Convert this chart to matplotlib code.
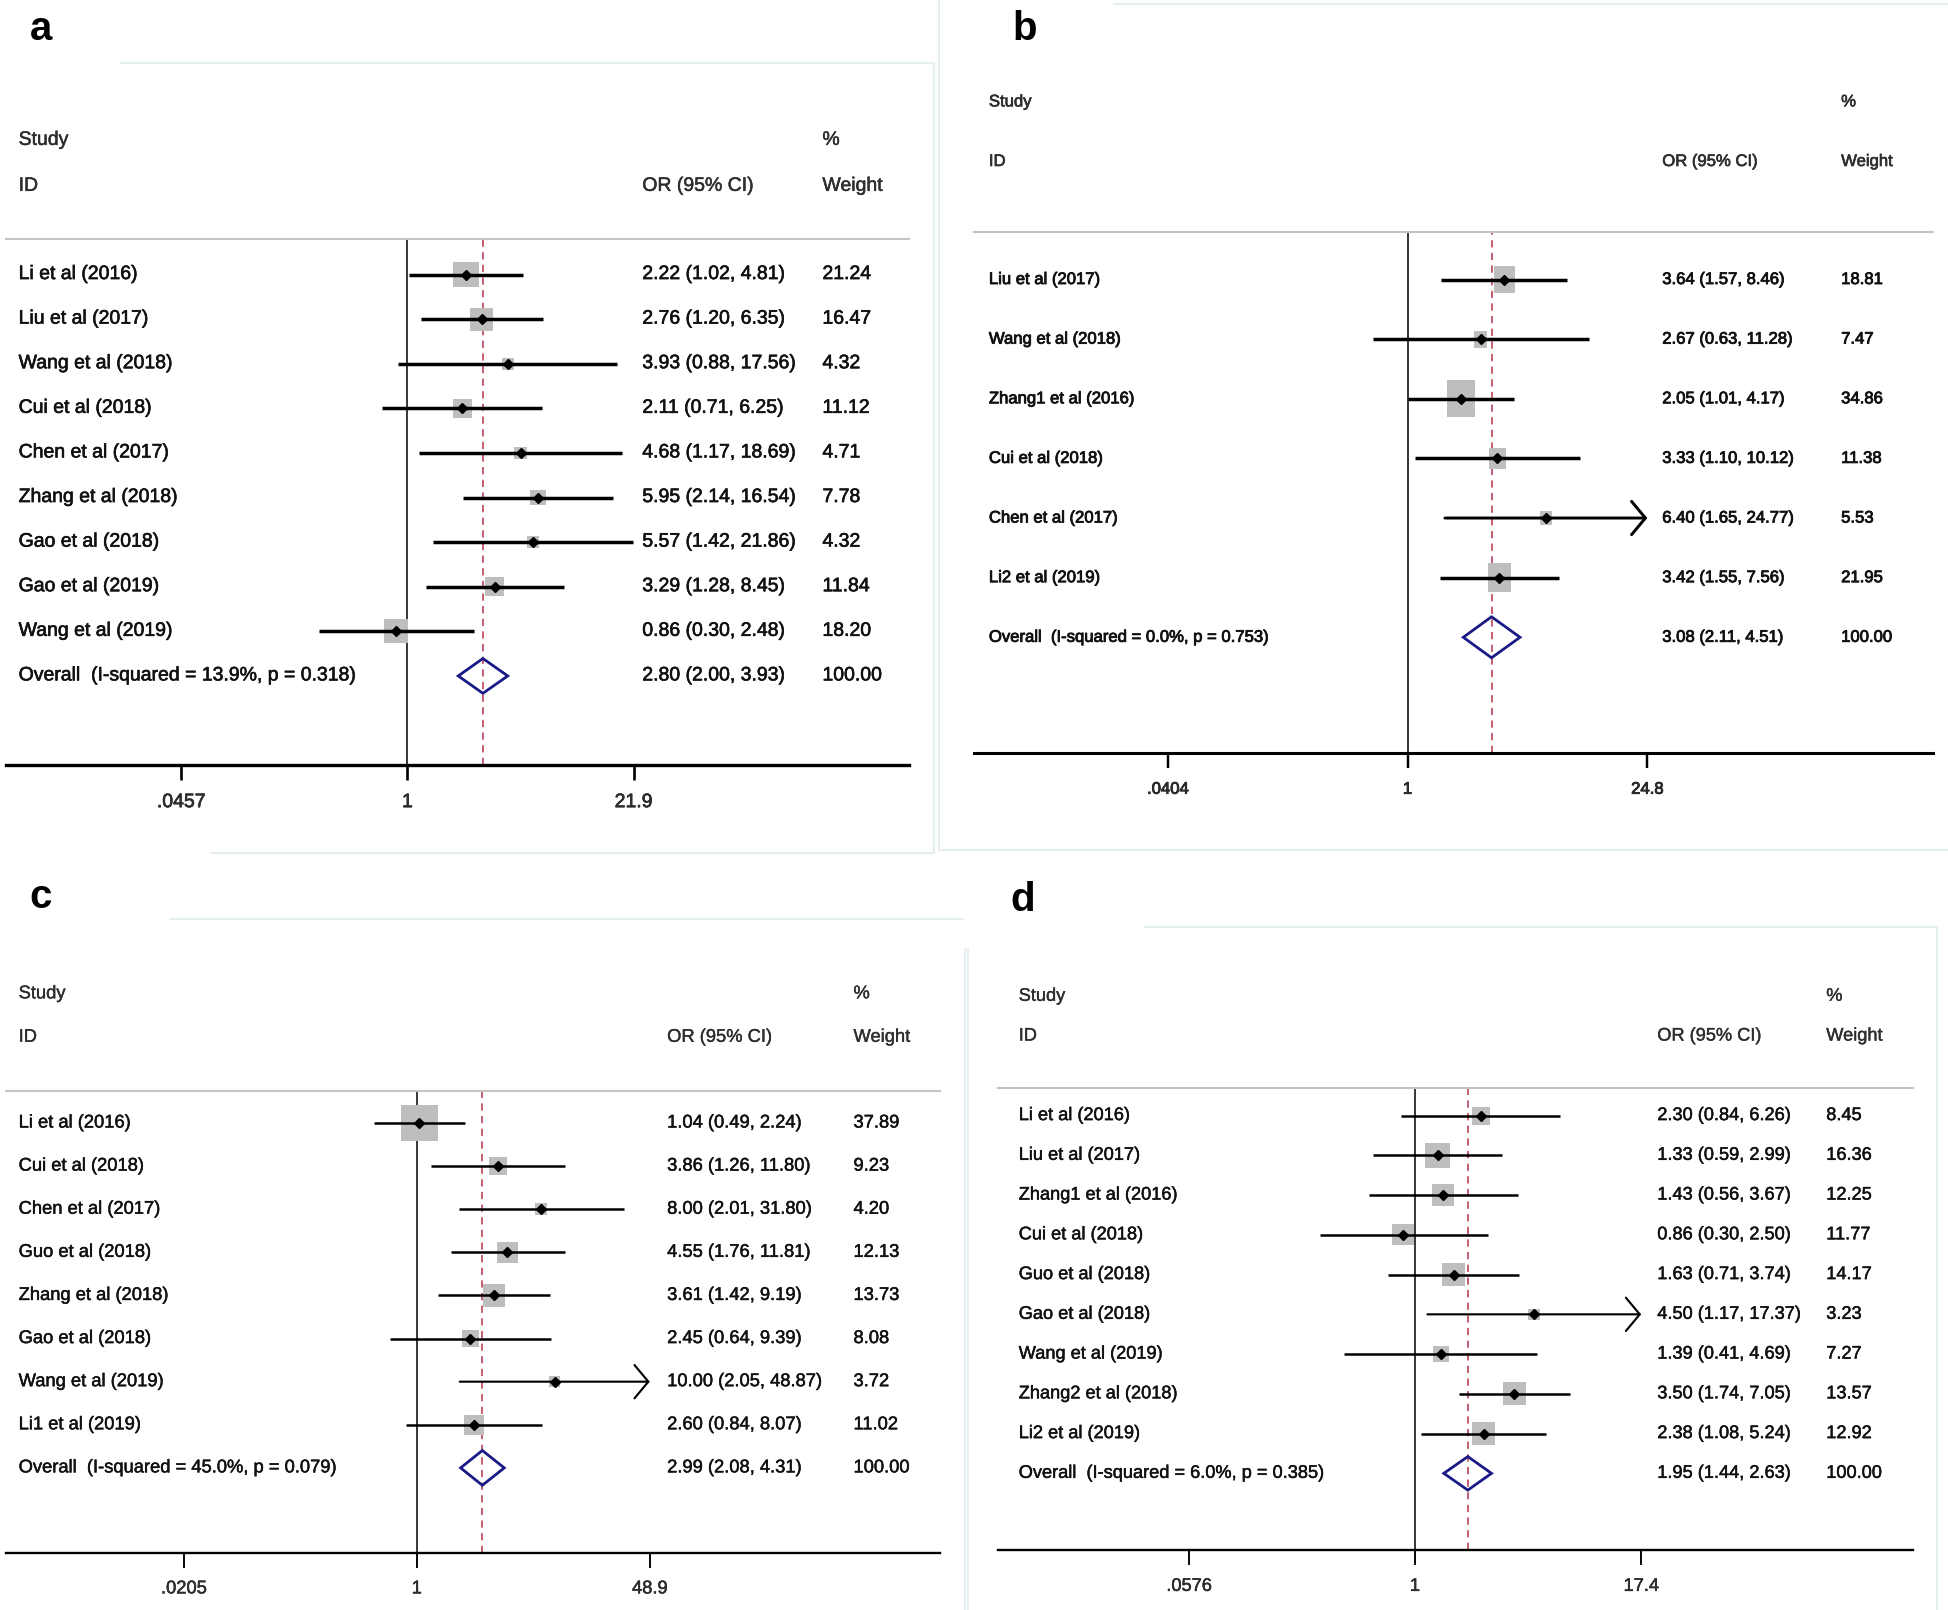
import numpy as np
import matplotlib
matplotlib.use("Agg")
import matplotlib.pyplot as plt
import matplotlib.transforms as mtransforms
import matplotlib.patheffects as pe
from matplotlib.lines import Line2D

plt.rcParams['font.family'] = ['Liberation Sans', 'DejaVu Sans']

# ------------------------------------------------------------------ data
a_study = ["Li et al (2016)", "Liu et al (2017)", "Wang et al (2018)", "Cui et al (2018)",
           "Chen et al (2017)", "Zhang et al (2018)", "Gao et al (2018)", "Gao et al (2019)",
           "Wang et al (2019)"]
a_or = [2.22, 2.76, 3.93, 2.11, 4.68, 5.95, 5.57, 3.29, 0.86]
a_lo = [1.02, 1.20, 0.88, 0.71, 1.17, 2.14, 1.42, 1.28, 0.30]
a_hi = [4.81, 6.35, 17.56, 6.25, 18.69, 16.54, 21.86, 8.45, 2.48]
a_wt = [21.24, 16.47, 4.32, 11.12, 4.71, 7.78, 4.32, 11.84, 18.20]
a_arrow = [False, False, False, False, False, False, False, False, False]
a_overall = [2.80, 2.00, 3.93]
a_het = "Overall  (I-squared = 13.9%, p = 0.318)"
a_ticks = [0.0457, 1, 21.9]
a_ticklabels = [".0457", "1", "21.9"]

b_study = ["Liu et al (2017)", "Wang et al (2018)", "Zhang1 et al (2016)", "Cui et al (2018)",
           "Chen et al (2017)", "Li2 et al (2019)"]
b_or = [3.64, 2.67, 2.05, 3.33, 6.40, 3.42]
b_lo = [1.57, 0.63, 1.01, 1.10, 1.65, 1.55]
b_hi = [8.46, 11.28, 4.17, 10.12, 24.77, 7.56]
b_wt = [18.81, 7.47, 34.86, 11.38, 5.53, 21.95]
b_arrow = [False, False, False, False, True, False]
b_overall = [3.08, 2.11, 4.51]
b_het = "Overall  (I-squared = 0.0%, p = 0.753)"
b_ticks = [0.0404, 1, 24.8]
b_ticklabels = [".0404", "1", "24.8"]

c_study = ["Li et al (2016)", "Cui et al (2018)", "Chen et al (2017)", "Guo et al (2018)",
           "Zhang et al (2018)", "Gao et al (2018)", "Wang et al (2019)", "Li1 et al (2019)"]
c_or = [1.04, 3.86, 8.00, 4.55, 3.61, 2.45, 10.00, 2.60]
c_lo = [0.49, 1.26, 2.01, 1.76, 1.42, 0.64, 2.05, 0.84]
c_hi = [2.24, 11.80, 31.80, 11.81, 9.19, 9.39, 48.87, 8.07]
c_wt = [37.89, 9.23, 4.20, 12.13, 13.73, 8.08, 3.72, 11.02]
c_arrow = [False, False, False, False, False, False, True, False]
c_overall = [2.99, 2.08, 4.31]
c_het = "Overall  (I-squared = 45.0%, p = 0.079)"
c_ticks = [0.0205, 1, 48.9]
c_ticklabels = [".0205", "1", "48.9"]

d_study = ["Li et al (2016)", "Liu et al (2017)", "Zhang1 et al (2016)", "Cui et al (2018)",
           "Guo et al (2018)", "Gao et al (2018)", "Wang et al (2019)", "Zhang2 et al (2018)",
           "Li2 et al (2019)"]
d_or = [2.30, 1.33, 1.43, 0.86, 1.63, 4.50, 1.39, 3.50, 2.38]
d_lo = [0.84, 0.59, 0.56, 0.30, 0.71, 1.17, 0.41, 1.74, 1.08]
d_hi = [6.26, 2.99, 3.67, 2.50, 3.74, 17.37, 4.69, 7.05, 5.24]
d_wt = [8.45, 16.36, 12.25, 11.77, 14.17, 3.23, 7.27, 13.57, 12.92]
d_arrow = [False, False, False, False, False, True, False, False, False]
d_overall = [1.95, 1.44, 2.63]
d_het = "Overall  (I-squared = 6.0%, p = 0.385)"
d_ticks = [0.0576, 1, 17.4]
d_ticklabels = [".0576", "1", "17.4"]

panel_letters = ["a", "b", "c", "d"]

# ------------------------------------------------------------------ layout
W, H = 1568.0, 1296.0          # design grid (scaled to the 1948x1610 output)
PX = 1948.0 / W                 # output pixels per design unit
fig = plt.figure(figsize=(19.48, 16.10), dpi=100)


def fx(x):
    return x / W


def fy(y):
    return 1.0 - y / H


BOX_GRAY = '#bebebe'
NAVY = '#1a1a86'
RED = '#c05262'
FAINT = '#e6eef2'
TXT = '#111111'
HDR = '#2e2e2e'

layouts = [
    dict(x0=5, x1=732, top=192, bot=616, tickpx=(146, 510), row1=221, step=35.9,
         lab=15, est=517, wt=662, study_y=113, id_y=150, fs=14, lw=2.5, axlw=2.4,
         diam=14, box_aspect=1.0, k=5.6, letter=(24, 32), tickpad=10, stroke=0.45),
    dict(x0=784, x1=1556, top=187, bot=606, tickpx=(940, 1326), row1=225, step=48.0,
         lab=796, est=1338, wt=1482, study_y=82, id_y=130, fs=12.0, lw=2.5, axlw=2.2,
         diam=16.5, box_aspect=0.78, k=6.2, letter=(815, 32), tickpad=10, stroke=0.6),
    dict(x0=5, x1=757, top=878, bot=1250, tickpx=(148, 523), row1=904, step=34.7,
         lab=15, est=537, wt=687, study_y=800, id_y=835, fs=13.2, lw=1.8, axlw=1.7,
         diam=14, box_aspect=1.0, k=6.0, letter=(24, 731), tickpad=9, stroke=0.35),
    dict(x0=803, x1=1540, top=876, bot=1248, tickpx=(957, 1321), row1=898, step=32.0,
         lab=820, est=1334, wt=1470, study_y=802, id_y=834, fs=13.1, lw=1.8, axlw=1.7,
         diam=13.5, box_aspect=1.0, k=6.2, letter=(813, 733), tickpad=9, stroke=0.35),
]

panels = [
    (a_study, a_or, a_lo, a_hi, a_wt, a_arrow, a_overall, a_het, a_ticks, a_ticklabels),
    (b_study, b_or, b_lo, b_hi, b_wt, b_arrow, b_overall, b_het, b_ticks, b_ticklabels),
    (c_study, c_or, c_lo, c_hi, c_wt, c_arrow, c_overall, c_het, c_ticks, c_ticklabels),
    (d_study, d_or, d_lo, d_hi, d_wt, d_arrow, d_overall, d_het, d_ticks, d_ticklabels),
]


def draw_panel(data, L, letter):
    study, est, lo, hi, wt, arrow, overall, het, ticks, ticklabels = data
    n = len(study)
    x0, x1, top, bot = L['x0'], L['x1'], L['top'], L['bot']
    ax = fig.add_axes([fx(x0), fy(bot), (x1 - x0) / W, (bot - top) / H])
    ax.set_xscale('log')
    p0, p2 = L['tickpx']
    lt0, lt2 = np.log(ticks[0]), np.log(ticks[-1])
    sc = (lt2 - lt0) / (p2 - p0)
    ax.set_xlim(np.exp(lt0 - (p0 - x0) * sc), np.exp(lt2 + (x1 - p2) * sc))
    r1, st = L['row1'], L['step']
    ax.set_ylim(1 + (bot - r1) / st, 1 - (r1 - top) / st)
    ax.patch.set_alpha(0)

    rows = np.arange(1, n + 1)
    orow = n + 1

    # spines / axis
    for s in ['left', 'right']:
        ax.spines[s].set_visible(False)
    ax.spines['top'].set_color('#c4c4c4')
    ax.spines['top'].set_linewidth(1.5)
    ax.spines['bottom'].set_color('black')
    ax.spines['bottom'].set_linewidth(L['axlw'])
    ax.set_yticks([])
    ax.minorticks_off()
    ax.set_xticks(ticks)
    ax.set_xticklabels(ticklabels)
    ax.tick_params(axis='x', which='major', length=10.8, width=L['axlw'] * 0.8,
                   pad=L['tickpad'], labelsize=L['fs'], labelcolor=HDR)
    ax.tick_params(axis='x', which='minor', length=0)
    eff = [pe.withStroke(linewidth=L['stroke'], foreground=TXT)]
    for t in ax.get_xticklabels():
        t.set_path_effects(eff)

    # null line and overall dashed line
    ax.axvline(1, color='black', lw=1.1, zorder=1)
    ax.axvline(overall[0], color=RED, lw=1.3, ls=(0, (4, 3)), zorder=1)

    # boxes
    a = L['box_aspect']
    verts = [(-a / 2, -0.5), (a / 2, -0.5), (a / 2, 0.5), (-a / 2, 0.5), (-a / 2, -0.5)]
    sizes = [(L['k'] * np.sqrt(w) * 0.72) ** 2 for w in wt]
    ax.scatter(est, rows, marker=verts, s=sizes, color=BOX_GRAY, linewidths=0, zorder=2)

    # CIs
    tmax = ticks[-1]
    for i in range(n):
        if arrow[i]:
            ax.annotate('', xy=(tmax, rows[i]), xytext=(lo[i], rows[i]),
                        arrowprops=dict(arrowstyle='->,head_length=0.5,head_width=0.6',
                                        lw=L['lw'] * 0.85, color='black', shrinkA=0, shrinkB=0,
                                        mutation_scale=20),
                        zorder=3)
        else:
            ax.plot([lo[i], hi[i]], [rows[i], rows[i]], color='black', lw=L['lw'],
                    solid_capstyle='butt', zorder=3)
    ax.plot(est, rows, ls='none', marker='D', ms=5.4, color='black', zorder=4)

    # overall diamond
    h = L['diam'] / st
    ax.fill([overall[1], overall[0], overall[2], overall[0], overall[1]],
            [orow, orow - h, orow, orow + h, orow],
            facecolor='none', edgecolor=NAVY, lw=2.0, zorder=4)

    # text columns
    trans = mtransforms.blended_transform_factory(fig.transFigure, ax.transData)
    fs = L['fs']
    kw = dict(transform=trans, va='center', ha='left', fontsize=fs, clip_on=False)
    txt = []
    for i in range(n):
        txt.append(ax.text(fx(L['lab']), rows[i], study[i], color=TXT, **kw))
        txt.append(ax.text(fx(L['est']), rows[i], f"{est[i]:.2f} ({lo[i]:.2f}, {hi[i]:.2f})",
                           color=TXT, **kw))
        txt.append(ax.text(fx(L['wt']), rows[i], f"{wt[i]:.2f}", color=TXT, **kw))
    txt.append(ax.text(fx(L['lab']), orow, het, color=TXT, **kw))
    txt.append(ax.text(fx(L['est']), orow, f"{overall[0]:.2f} ({overall[1]:.2f}, {overall[2]:.2f})",
                       color=TXT, **kw))
    txt.append(ax.text(fx(L['wt']), orow, f"{100:.2f}", color=TXT, **kw))
    for t in txt:
        t.set_path_effects(eff)

    ys = 1 + (L['study_y'] - r1) / st
    yi = 1 + (L['id_y'] - r1) / st
    heff = [pe.withStroke(linewidth=L['stroke'] * 0.8, foreground=HDR)]
    hdr = [ax.text(fx(L['lab']), ys, "Study", color=HDR, **kw),
           ax.text(fx(L['lab']), yi, "ID", color=HDR, **kw),
           ax.text(fx(L['est']), yi, "OR (95% CI)", color=HDR, **kw),
           ax.text(fx(L['wt']), ys, "%", color=HDR, **kw),
           ax.text(fx(L['wt']), yi, "Weight", color=HDR, **kw)]
    for t in hdr:
        t.set_path_effects(heff)

    fig.text(fx(L['letter'][0]), fy(L['letter'][1]), letter, fontsize=29, fontweight='bold',
             ha='left', va='baseline', color='black')
    return ax


for data, L, letter in zip(panels, layouts, panel_letters):
    draw_panel(data, L, letter)

# faint frame remnants around the panels
faint_segments = [
    ((97, 51), (752, 51)), ((752, 51), (752, 687)), ((170, 687), (752, 687)),
    ((756, 0), (756, 684)), ((897, 3), (1568, 3)), ((756, 684), (1568, 684)),
    ((137, 740), (775, 740)), ((777, 764), (777, 1296)),
    ((922, 746), (1559, 746)), ((1559, 746), (1559, 1296)), ((779, 764), (779, 1296)),
]
for (xa, ya), (xb, yb) in faint_segments:
    fig.add_artist(Line2D([fx(xa), fx(xb)], [fy(ya), fy(yb)], transform=fig.transFigure,
                          color=FAINT, lw=1.5, zorder=0))

fig.savefig("out.png", dpi=100, facecolor='white')
